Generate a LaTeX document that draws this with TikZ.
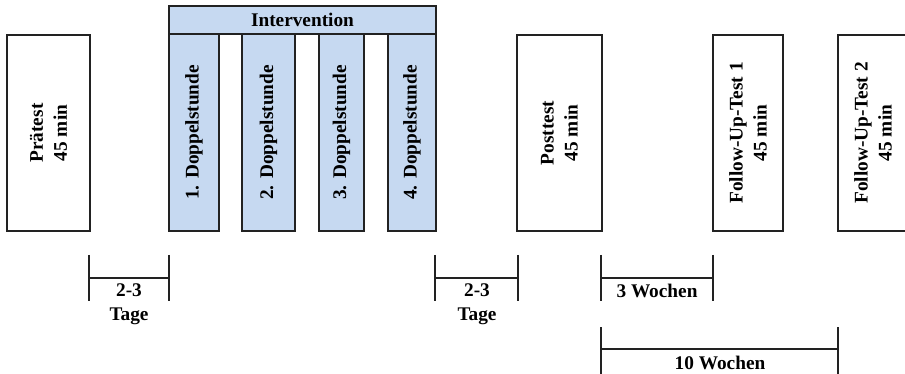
\documentclass[tikz,border=0pt]{standalone}
\usepackage{fontspec}
\setmainfont{Liberation Serif}
\definecolor{boxblue}{HTML}{C6D9F1}
\definecolor{edge}{HTML}{222222}
\begin{document}
\begin{tikzpicture}[x=1pt,y=-1pt,
  every node/.style={font=\bfseries\fontsize{19.3}{24}\selectfont, text=black},
  testbox/.style={draw=edge, line width=2pt, rotate=90, align=center, inner sep=0pt},
  dsbox/.style={testbox, fill=boxblue},
  brk/.style={draw=edge, line width=1.6pt},
  lbl/.style={align=center, inner sep=0pt}
]
\clip (0,0) rectangle (905,374);
\fill[white] (0,0) rectangle (905,374);
% tests
\node[testbox, minimum width=196pt, minimum height=83pt] (pre) at (48.5,133) {Prätest\\45 min};
\node[testbox, minimum width=196pt, minimum height=85pt] (post) at (559.5,133) {Posttest\\45 min};
\node[testbox, minimum width=196pt, minimum height=70pt] (fu1) at (748,133) {Follow-Up-Test 1\\45 min};
\node[testbox, minimum width=196pt, minimum height=70pt] (fu2) at (873,133) {Follow-Up-Test 2\\45 min};
% intervention
\node[draw=edge, line width=2pt, fill=boxblue, minimum width=267pt, minimum height=28pt, inner sep=0pt] (int) at (302.5,20) {Intervention};
\node[dsbox, minimum width=197pt, minimum height=50pt] (d1) at (194,132.5) {1. Doppelstunde};
\node[dsbox, minimum width=197pt, minimum height=53pt] (d2) at (268.5,132.5) {2. Doppelstunde};
\node[dsbox, minimum width=197pt, minimum height=45pt] (d3) at (341.5,132.5) {3. Doppelstunde};
\node[dsbox, minimum width=197pt, minimum height=48pt] (d4) at (412,132.5) {4. Doppelstunde};
% brackets
\coordinate (a1) at (89,255); \coordinate (a2) at (169,255);
\draw[brk] (a1) -- ++(0,46) (a2) -- ++(0,46) (89,278) -- (169,278);
\node[lbl, anchor=base] (t1) at (129,320) {2-3\\Tage};
\coordinate (b1) at (435,255); \coordinate (b2) at (518,255);
\draw[brk] (b1) -- ++(0,46) (b2) -- ++(0,46) (435,278) -- (518,278);
\node[lbl, anchor=base] (t2) at (477,320) {2-3\\Tage};
\coordinate (c1) at (601,255); \coordinate (c2) at (713,255);
\draw[brk] (c1) -- ++(0,46) (c2) -- ++(0,46) (601,278) -- (713,278);
\node[lbl, anchor=base] (t3) at (657,297) {3 Wochen};
\coordinate (e1) at (601,327); \coordinate (e2) at (838,327);
\draw[brk] (e1) -- ++(0,50) (e2) -- ++(0,50) (601,349) -- (838,349);
\node[lbl, anchor=base] (t4) at (720,369) {10 Wochen};
\end{tikzpicture}
\end{document}
